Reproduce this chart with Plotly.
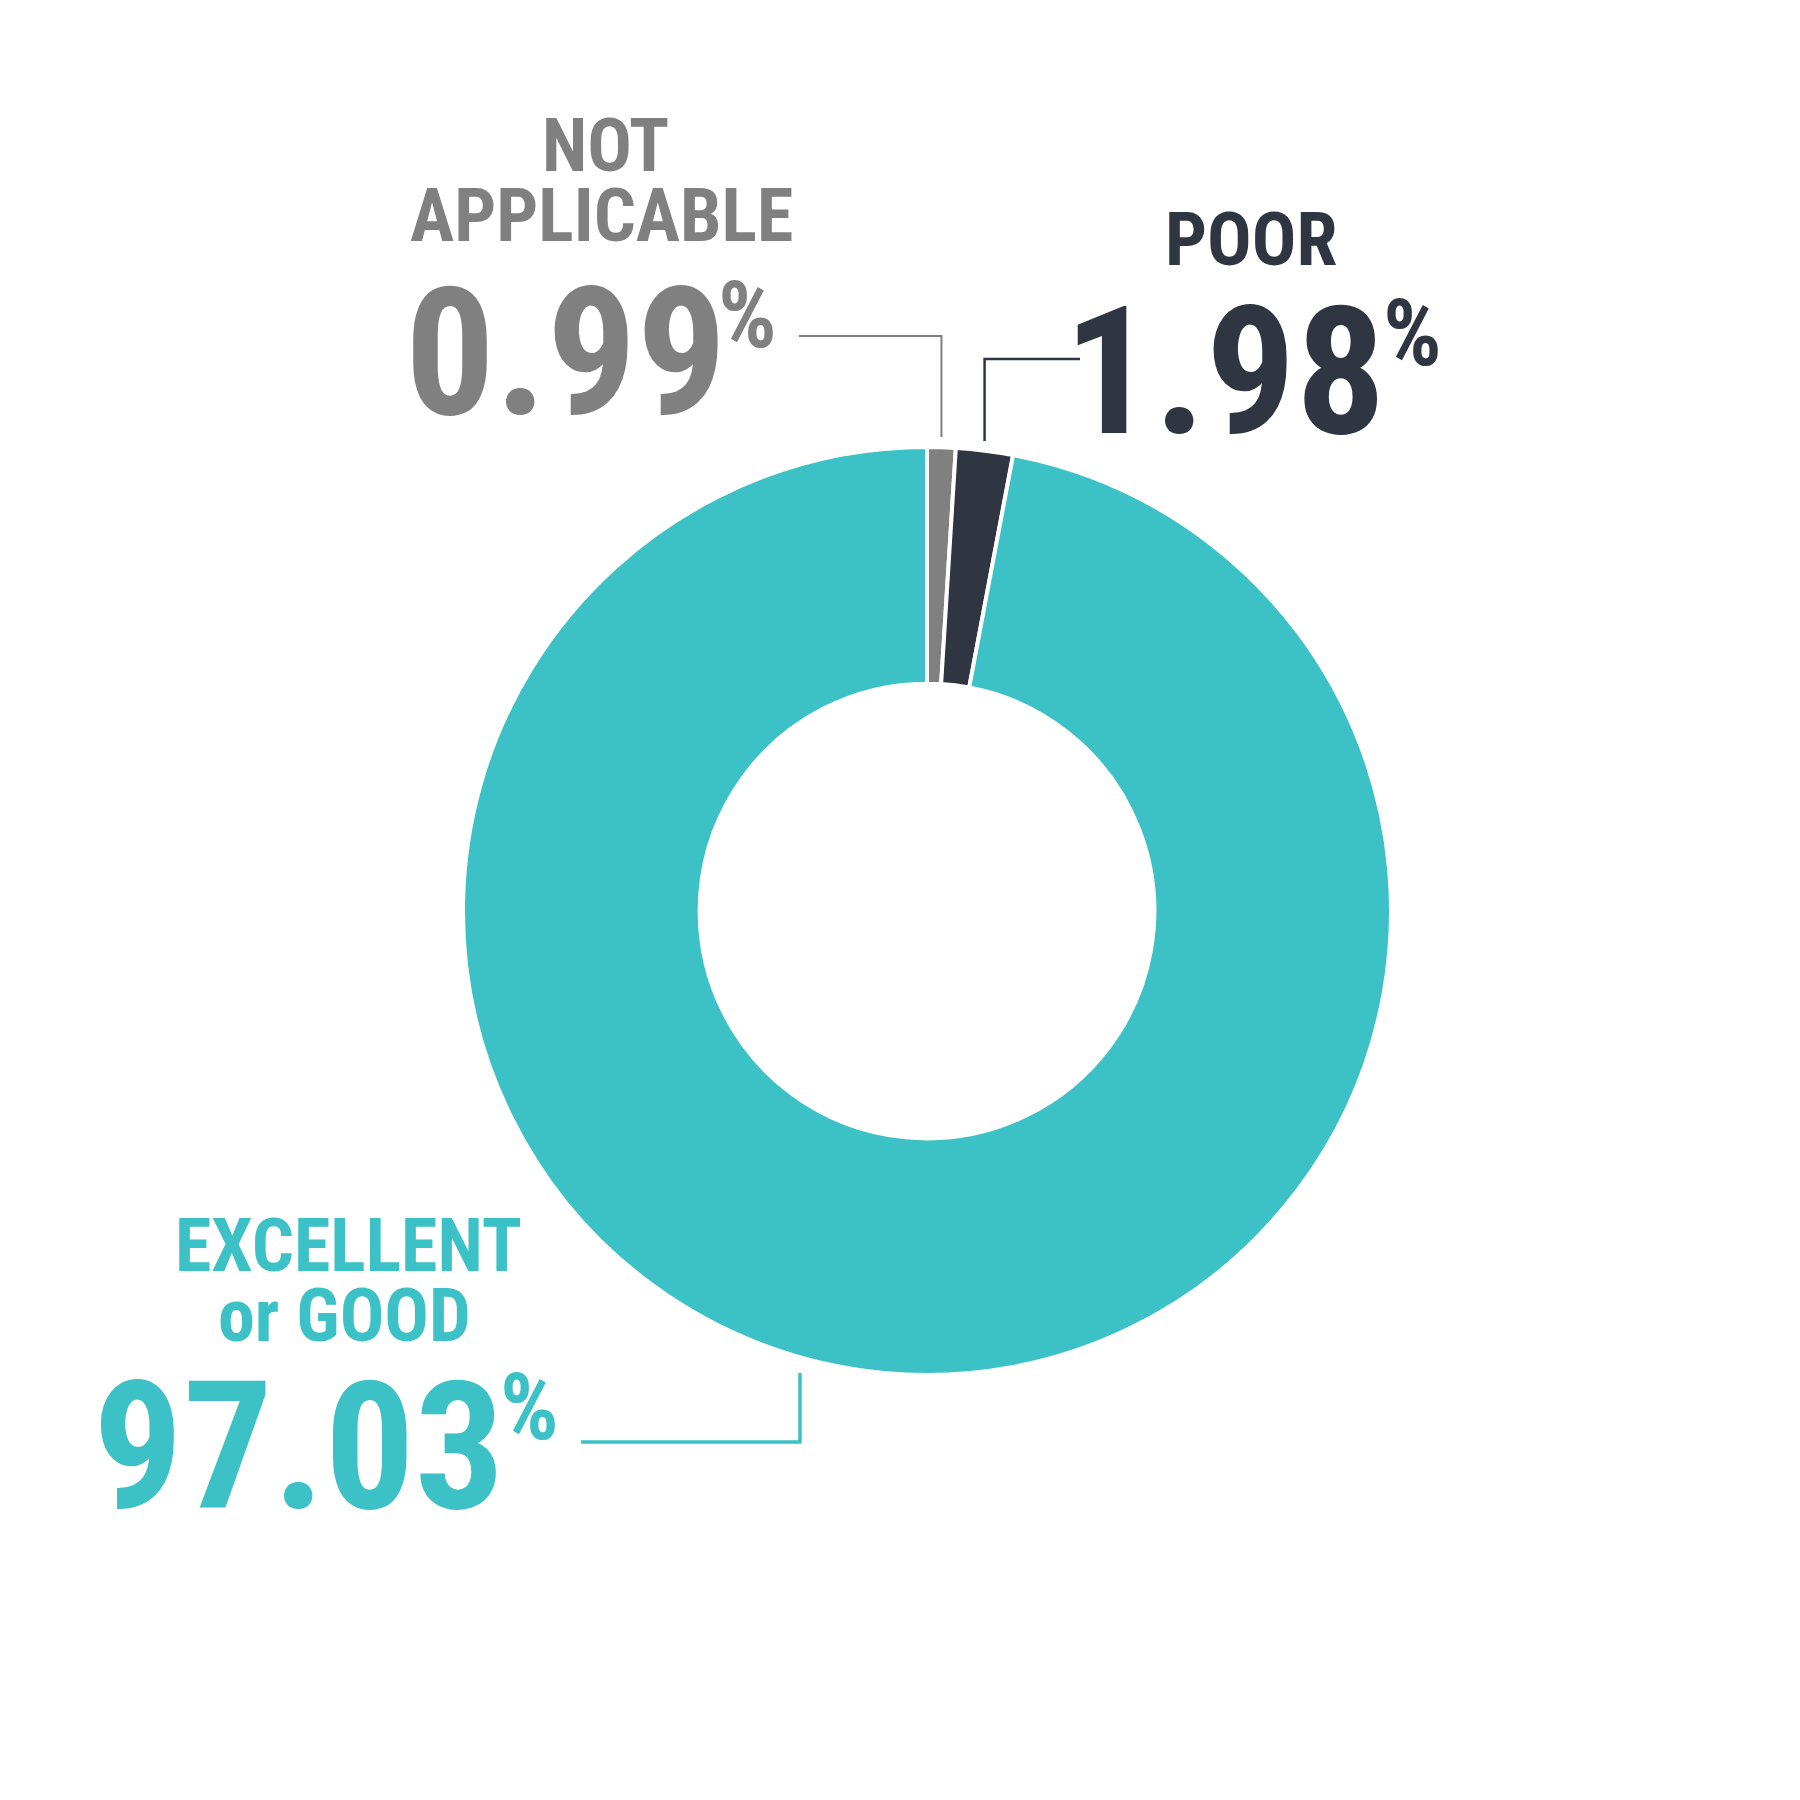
import math
import plotly.graph_objects as go

# ---- data ----
categories = ["NOT APPLICABLE", "POOR", "EXCELLENT or GOOD"]
values = [0.99, 1.98, 97.03]
colors = ["#808080", "#2F3541", "#3CC1C6"]
label_lines = [["NOT", "APPLICABLE"], ["POOR"], ["EXCELLENT", "or GOOD"]]

W = H = 1800
CX, CY, R = 927, 911, 464
HOLE = 0.49
FONT = "Roboto Condensed, Roboto, sans-serif"


def px(x):
    return x / W


def py(y):
    return 1 - y / H


fig = go.Figure()
fig.add_trace(go.Pie(
    labels=categories,
    values=values,
    marker=dict(colors=colors, line=dict(color="white", width=4)),
    hole=HOLE,
    sort=False,
    direction="clockwise",
    rotation=0,
    textinfo="none",
    hoverinfo="label+percent",
    showlegend=False,
    domain=dict(x=[px(CX - R), px(CX + R)], y=[py(CY + R), py(CY - R)]),
))

# slice mid-angles (degrees clockwise from 12 o'clock)
total = sum(values)
mids = []
acc = 0
for v in values:
    mids.append((acc + v / 2) / total * 360)
    acc += v


def ring_x(angle):
    return CX + R * math.sin(math.radians(angle))


annotations = []
shapes = []

label_pos = [
    [(605, 145), (601, 215)],
    [(1251, 239)],
    [(348, 1245), (344, 1315)],
]
num_pos = [(729, 353), (1388, 372), (507, 1447)]
pct_pos = [(716, 315), (1381, 333), (498, 1407)]
LABEL_SIZE = 74
NUM_SIZE = 178
PCT_SIZE = 92

for i, v in enumerate(values):
    c = colors[i]
    for text, (x, y) in zip(label_lines[i], label_pos[i]):
        annotations.append(dict(
            x=px(x), y=py(y), xref="paper", yref="paper", text=f"<b>{text}</b>",
            showarrow=False, xanchor="center", yanchor="middle",
            font=dict(family=FONT, size=LABEL_SIZE, color=c)))
    nx, ny = num_pos[i]
    annotations.append(dict(
        x=px(nx), y=py(ny), xref="paper", yref="paper", text=f"<b>{v:.2f}</b>",
        showarrow=False, xanchor="right", yanchor="middle",
        font=dict(family=FONT, size=NUM_SIZE, color=c)))
    qx, qy = pct_pos[i]
    annotations.append(dict(
        x=px(qx), y=py(qy), xref="paper", yref="paper", text="<b>%</b>",
        showarrow=False, xanchor="left", yanchor="middle",
        font=dict(family=FONT, size=PCT_SIZE, color=c)))

# leader lines
gx = ring_x(mids[0])
dx = ring_x(mids[1])
leaders = [
    (colors[0], 2, [(799, 336), (gx, 336), (gx, 437)]),
    (colors[1], 2.5, [(1080, 359), (dx, 359), (dx, 441)]),
    (colors[2], 3.5, [(581, 1442), (800, 1442), (800, 1373)]),
]
for col, wd, pts in leaders:
    path = "M " + " L ".join(f"{px(x):.5f},{py(y):.5f}" for x, y in pts)
    shapes.append(dict(type="path", path=path, xref="paper", yref="paper",
                       line=dict(color=col, width=wd), fillcolor="rgba(0,0,0,0)"))

fig.update_layout(
    width=W, height=H,
    margin=dict(l=0, r=0, t=0, b=0),
    paper_bgcolor="white", plot_bgcolor="white",
    annotations=annotations, shapes=shapes,
)

fig.write_html("out.html", config={"displayModeBar": False},
               post_script="document.body.style.margin='0';")
